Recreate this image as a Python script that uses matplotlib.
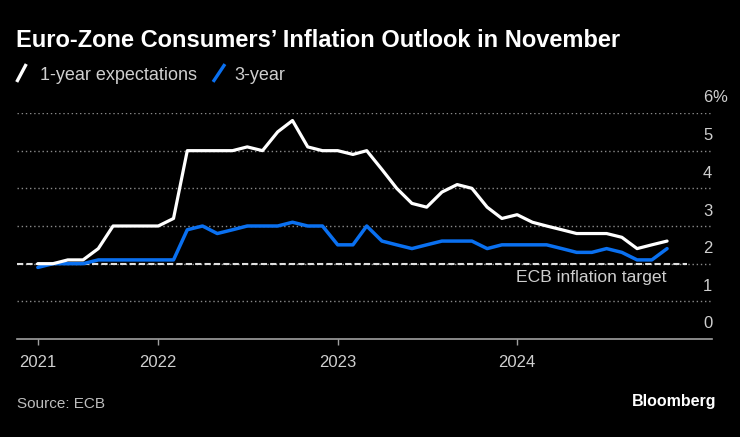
import matplotlib
matplotlib.use('Agg')
import matplotlib.pyplot as plt
import matplotlib.transforms as mtransforms
from matplotlib.lines import Line2D
import pandas as pd

# ---- data ----
months = pd.date_range('2021-05-01', '2024-11-01', freq='MS')
one_year = [2.0, 2.0, 2.1, 2.1, 2.4, 3.0, 3.0, 3.0, 3.0, 3.2,
            5.0, 5.0, 5.0, 5.0, 5.1, 5.0, 5.5, 5.8, 5.1, 5.0,
            5.0, 4.9, 5.0, 4.5, 4.0, 3.6, 3.5, 3.9, 4.1, 4.0,
            3.5, 3.2, 3.3, 3.1, 3.0, 2.9, 2.8, 2.8, 2.8, 2.7,
            2.4, 2.5, 2.6]
three_year = [1.9, 2.0, 2.0, 2.0, 2.1, 2.1, 2.1, 2.1, 2.1, 2.1,
              2.9, 3.0, 2.8, 2.9, 3.0, 3.0, 3.0, 3.1, 3.0, 3.0,
              2.5, 2.5, 3.0, 2.6, 2.5, 2.4, 2.5, 2.6, 2.6, 2.6,
              2.4, 2.5, 2.5, 2.5, 2.5, 2.4, 2.3, 2.3, 2.4, 2.3,
              2.1, 2.1, 2.4]
ecb_target = 2.0
y_ticks = [0, 1, 2, 3, 4, 5, 6]
x_tick_dates = [pd.Timestamp('2021-05-01'), pd.Timestamp('2022-01-01'),
                pd.Timestamp('2023-01-01'), pd.Timestamp('2024-01-01')]
x_tick_labels = ['2021', '2022', '2023', '2024']

title = "Euro-Zone Consumers\u2019 Inflation Outlook in November"
source = "Source: ECB"

# ---- style ----
plt.rcParams['font.family'] = ['Liberation Sans', 'DejaVu Sans']
W, H = 740, 437
BG = '#000000'
WHITE = '#ffffff'
BLUE = '#0A70F0'
GRID = '#8a8a8a'
AXIS = '#a0a0a0'
LABEL = '#cfcfcf'

fig = plt.figure(figsize=(W / 100, H / 100), dpi=100, facecolor=BG)

def fx(px):
    return px / W

def fy(py):
    return 1 - py / H

ax_left, ax_right, ax_top, ax_bottom = 16.7, 712.3, 113, 339
ax = fig.add_axes([fx(ax_left), fy(ax_bottom), fx(ax_right - ax_left), (ax_bottom - ax_top) / H])
ax.set_facecolor(BG)

ax.set_xlim(pd.Timestamp('2021-03-19'), pd.Timestamp('2025-02-01'))
ax.set_ylim(0, 6)

# gridlines
for v in y_ticks[1:]:
    ax.axhline(v, color=GRID, lw=1.0, ls=(0, (1, 2)), zorder=1)

# ECB target
ax.plot([0, (687 - ax_left) / (ax_right - ax_left)], [ecb_target, ecb_target],
        transform=mtransforms.blended_transform_factory(ax.transAxes, ax.transData),
        color='#e0e0e0', lw=1.5, ls=(0, (3, 1.5)), zorder=2)
ax.text((666 - ax_left) / (ax_right - ax_left), 1.52, 'ECB inflation target',
        transform=mtransforms.blended_transform_factory(ax.transAxes, ax.transData),
        ha='right', va='baseline', color=LABEL, fontsize=12.6)

# lines
ax.plot(months, three_year, color=BLUE, lw=2.5, solid_joinstyle='round', solid_capstyle='round', zorder=3)
ax.plot(months, one_year, color=WHITE, lw=2.3, solid_joinstyle='round', solid_capstyle='round', zorder=4)

# spines
for s in ['top', 'right', 'left']:
    ax.spines[s].set_visible(False)
ax.spines['bottom'].set_color(AXIS)
ax.spines['bottom'].set_linewidth(1.2)

ax.set_yticks([])
ax.set_xticks(x_tick_dates)
ax.set_xticklabels(x_tick_labels)
ax.tick_params(axis='x', colors=AXIS, length=4.5, width=1, pad=7, labelsize=12, labelcolor=LABEL)

# y labels (right, above gridlines)
blend = mtransforms.blended_transform_factory(ax.transAxes, ax.transData)
off = mtransforms.ScaledTranslation(0, 10.5 / 100, fig.dpi_scale_trans)
for v in y_ticks:
    ax.text(1.0, v, str(v), transform=blend + off, ha='right', va='baseline',
            color=LABEL, fontsize=12)
ax.text(1.0, 6, '%', transform=blend + off, ha='left', va='baseline',
        color=LABEL, fontsize=12)

# title
fig.text(fx(16), fy(47), title, color=WHITE, fontsize=17, fontweight='bold',
         ha='left', va='baseline')

# legend
fig.add_artist(Line2D([fx(17.5), fx(25.5)], [fy(80.5), fy(65.5)], color=WHITE, lw=2.4,
                      transform=fig.transFigure))
fig.text(fx(40.5), fy(80), '1-year expectations', color=LABEL, fontsize=13,
         ha='left', va='baseline')
fig.add_artist(Line2D([fx(214), fx(224)], [fy(80.5), fy(65.5)], color=BLUE, lw=2.4,
                      transform=fig.transFigure))
fig.text(fx(234), fy(80), '3-year', color=LABEL, fontsize=13,
         ha='left', va='baseline')

# footer
fig.text(fx(17), fy(408), source, color='#bdbdbd', fontsize=11, ha='left', va='baseline')
fig.text(fx(716), fy(406), 'Bloomberg', color=WHITE, fontsize=11.5, fontweight='bold',
         ha='right', va='baseline')

fig.savefig('out.png', dpi=100, facecolor=BG)
